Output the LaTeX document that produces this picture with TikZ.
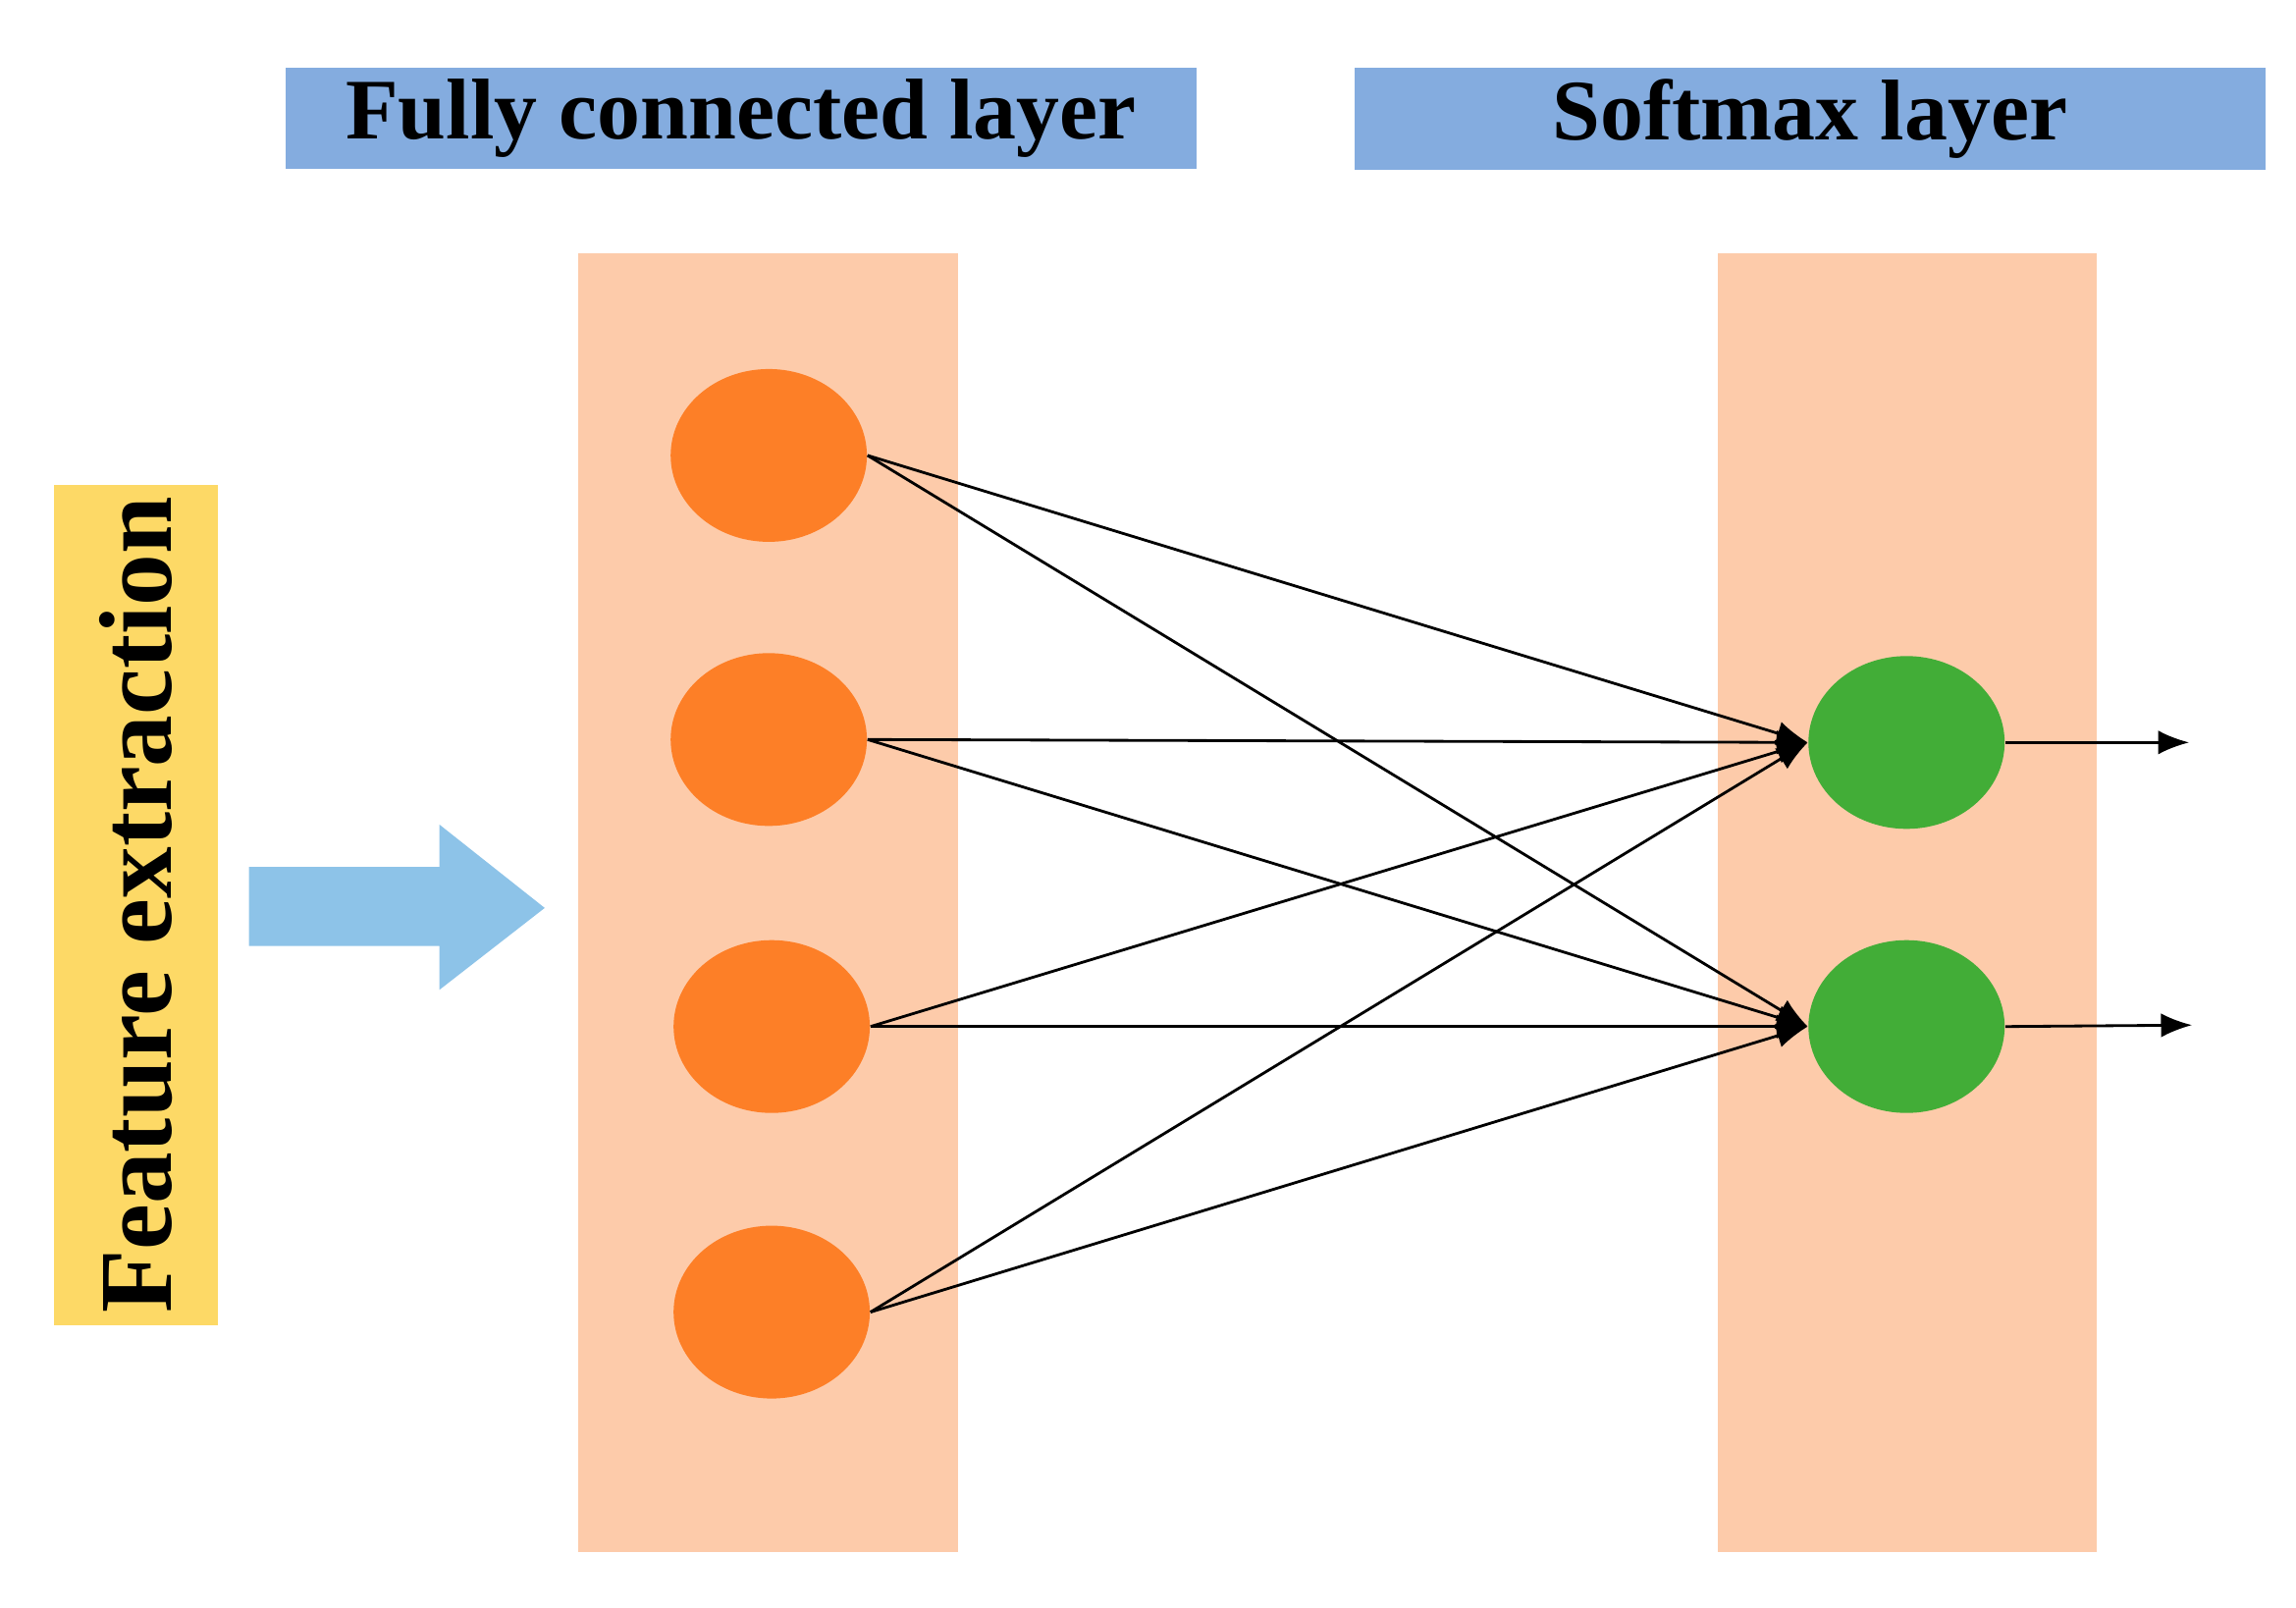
\documentclass[tikz,border=0pt]{standalone}
\usepackage{fontspec}
\setmainfont{Liberation Serif}
\usetikzlibrary{arrows.meta,shapes.geometric}
\definecolor{hdr}{HTML}{84ACDF}
\definecolor{band}{HTML}{FDCBAA}
\definecolor{org}{HTML}{FD7F27}
\definecolor{grn}{HTML}{42AD37}
\definecolor{ylw}{HTML}{FDD966}
\definecolor{barrow}{HTML}{8DC3E8}
\begin{document}
\begin{tikzpicture}[x=0.014917cm,y=-0.014917cm,
 hdrbox/.style={fill=hdr,draw=none,minimum width=622*0.014917cm,minimum height=68*0.014917cm,font=\fontsize{25}{28}\selectfont\bfseries},
 orgn/.style={ellipse,fill=org,minimum width=134*0.014917cm,minimum height=118*0.014917cm,inner sep=0},
 grnn/.style={ellipse,fill=grn,minimum width=134*0.014917cm,minimum height=118*0.014917cm,inner sep=0},
 edge/.style={-{Latex[length=9pt,width=7pt]},line width=0.8pt}]
\useasboundingbox (0,0) rectangle (1568,1098);
\node[hdrbox] (h1) at (506,81) {Fully connected layer};
\node[hdrbox] (h2) at (1236,81) {Softmax layer};
\fill[band] (395,173) rectangle (654,1060);
\fill[band] (1173,173) rectangle (1432,1060);
\node[fill=ylw,minimum width=504*0.014917cm,minimum height=112*0.014917cm,rotate=90,font=\fontsize{30}{34}\selectfont\bfseries] (fe) at (93,618) {Feature extraction};
\fill[barrow] (170,592) -- (300,592) -- (300,563) -- (372,620) -- (300,676) -- (300,646) -- (170,646) -- cycle;
\node[orgn] (o1) at (525,311) {};
\node[orgn] (o2) at (525,505) {};
\node[orgn] (o3) at (527,701) {};
\node[orgn] (o4) at (527,896) {};
\node[grnn] (g1) at (1302,507) {};
\node[grnn] (g2) at (1302,701) {};
\coordinate (t1) at (1495,507);
\coordinate (t2) at (1497,700);
\foreach \o in {o1,o2,o3,o4}{
 \draw[edge] (\o.east) -- (g1.west);
 \draw[edge] (\o.east) -- (g2.west);
}
\draw[edge] (g1.east) -- (t1);
\draw[edge] (g2.east) -- (t2);
\end{tikzpicture}
\end{document}
